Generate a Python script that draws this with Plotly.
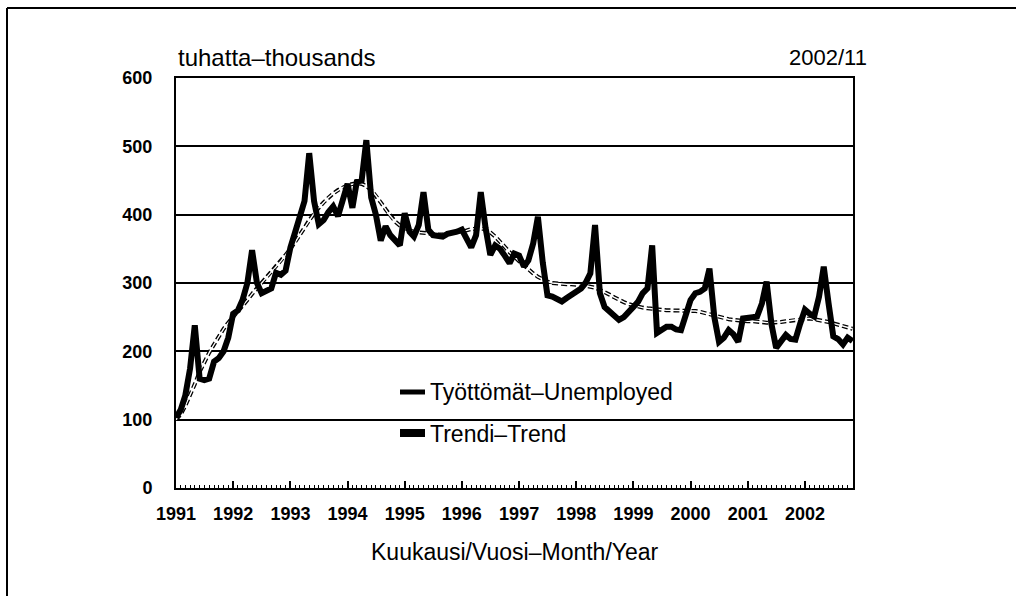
import plotly.graph_objects as go
import pandas as pd

# ---------------- data ----------------
months = pd.date_range("1991-01-01", periods=143, freq="MS")

unemployed = [
    # 1991
    103, 115, 135, 175, 238, 160, 158, 160, 185, 190, 200, 220,
    # 1992
    255, 260, 275, 300, 348, 300, 285, 288, 292, 315, 312, 318,
    # 1993
    352, 375, 395, 420, 490, 420, 386, 392, 404, 412, 398, 425,
    # 1994
    445, 410, 448, 450, 509, 425, 400, 362, 383, 370, 362, 355,
    # 1995
    402, 375, 368, 385, 433, 378, 370, 368, 368, 372, 373, 375,
    # 1996
    378, 365, 352, 370, 433, 380, 341, 355, 350, 340, 329, 343,
    # 1997
    340, 324, 333, 358, 397, 330, 282, 280, 276, 273, 278, 282,
    # 1998
    286, 292, 300, 314, 385, 285, 265, 258, 250, 246, 250, 256,
    # 1999
    265, 273, 285, 292, 355, 227, 232, 236, 236, 232, 231, 255,
    # 2000
    275, 285, 287, 292, 321, 250, 214, 220, 231, 225, 214, 248,
    # 2001
    250, 250, 251, 270, 302, 240, 205, 215, 224, 218, 217, 240,
    # 2002
    261, 255, 251, 280, 324, 270, 222, 218, 210, 220, 215,
]

trend = [
    # 1991
    100, 108, 120, 135, 152, 170, 185, 198, 210, 222, 233, 242,
    # 1992
    250, 258, 266, 275, 284, 292, 300, 308, 316, 324, 332, 341,
    # 1993
    350, 360, 370, 381, 392, 402, 410, 418, 425, 431, 436, 440,
    # 1994
    443, 445, 446, 445, 442, 436, 428, 418, 408, 398, 390, 384,
    # 1995
    380, 377, 375, 374, 373, 372, 372, 371, 371, 372, 373, 374,
    # 1996
    375, 377, 379, 380, 380, 378, 374, 368, 361, 353, 345, 338,
    # 1997
    332, 326, 320, 314, 309, 305, 302, 300, 299, 298, 298, 298,
    # 1998
    298, 297, 296, 295, 293, 290, 287, 283, 279, 275, 272, 269,
    # 1999
    267, 265, 264, 263, 262, 261, 261, 260, 260, 260, 260, 260,
    # 2000
    260, 259, 258, 256, 254, 252, 250, 248, 247, 246, 245, 245,
    # 2001
    244, 244, 243, 243, 242, 242, 242, 243, 244, 245, 246, 247,
    # 2002
    248, 248, 247, 246, 245, 243, 241, 239, 237, 235, 233,
]

year_labels = [str(y) for y in range(1991, 2003)]
year_ticks = [pd.Timestamp(f"{y}-01-01") for y in range(1991, 2003)]
y_ticks = [0, 100, 200, 300, 400, 500, 600]

legend_labels = ["Työttömät–Unemployed", "Trendi–Trend"]

# ---------------- layout geometry ----------------
W, H = 1016, 596
L, R, T, B = 176, 163, 78, 108
PW, PH = W - L - R, H - T - B


def xp(px):
    return (px - L) / PW


def yp(py):
    return (H - B - py) / PH


REG = "Liberation Sans, Arial, sans-serif"
numfont = dict(family=REG, size=18, color="black", weight="bold")

fig = go.Figure()

# trend: dashed double line
fig.add_trace(go.Scatter(
    x=months, y=trend, mode="lines",
    line=dict(color="black", width=4, dash="6px,3px"),
    hoverinfo="skip", showlegend=False,
))
fig.add_trace(go.Scatter(
    x=months, y=trend, mode="lines",
    line=dict(color="white", width=1.4),
    hoverinfo="skip", showlegend=False,
))
# unemployed: thick black
fig.add_trace(go.Scatter(
    x=months, y=unemployed, mode="lines",
    line=dict(color="black", width=6),
    showlegend=False,
))

fig.update_layout(
    width=W, height=H,
    margin=dict(l=L, r=R, t=T, b=B, pad=0),
    paper_bgcolor="white", plot_bgcolor="white",
    showlegend=False,
    xaxis=dict(
        range=[pd.Timestamp("1991-01-01"), pd.Timestamp("2002-11-04")],
        showline=True, linecolor="black", linewidth=2, mirror=True,
        showgrid=False, zeroline=False,
        tickmode="array", tickvals=year_ticks, ticktext=year_labels,
        ticks="inside", ticklen=7, tickwidth=1.5, tickcolor="black",
        tickfont=numfont,
        ticklabelstandoff=8,
        minor=dict(ticks="inside", ticklen=3, tickwidth=1, tickcolor="black",
                   dtick="M1", tick0="1991-01-01", showgrid=False),
    ),
    yaxis=dict(
        range=[0, 600], tickmode="array", tickvals=y_ticks,
        showline=True, linecolor="black", linewidth=2, mirror=True,
        showgrid=True, gridcolor="black", gridwidth=1.5, zeroline=False,
        ticks="",
        tickfont=numfont,
        ticklabelstandoff=18,
    ),
)

annotations = [
    dict(text="tuhatta–thousands", x=xp(176), y=yp(58), xanchor="left",
         yanchor="middle", font=dict(family=REG, size=24, color="black")),
    dict(text="2002/11", x=xp(869), y=yp(58), xanchor="right",
         yanchor="middle", font=dict(family=REG, size=22, color="black")),
    dict(text="Kuukausi/Vuosi–Month/Year", x=xp(514.5), y=yp(552),
         xanchor="center", yanchor="middle",
         font=dict(family=REG, size=23, color="black")),
    dict(text=legend_labels[0], x=xp(428), y=yp(392), xanchor="left",
         yanchor="middle", font=dict(family=REG, size=23, color="black")),
    dict(text=legend_labels[1], x=xp(428), y=yp(434), xanchor="left",
         yanchor="middle", font=dict(family=REG, size=23, color="black")),
]
for a in annotations:
    a.update(xref="paper", yref="paper", showarrow=False)
fig.update_layout(annotations=annotations)

shapes = [
    # legend symbols
    dict(type="line", x0=xp(400), x1=xp(425), y0=yp(392), y1=yp(392),
         line=dict(color="black", width=5)),
    dict(type="line", x0=xp(400), x1=xp(425), y0=yp(433), y1=yp(433),
         line=dict(color="black", width=8)),
    # outer frame (top and left)
    dict(type="line", x0=xp(7), x1=xp(1016), y0=yp(8), y1=yp(8),
         line=dict(color="black", width=2)),
    dict(type="line", x0=xp(7), x1=xp(7), y0=yp(8), y1=yp(596),
         line=dict(color="black", width=2)),
]
for s in shapes:
    s.update(xref="paper", yref="paper")
fig.update_layout(shapes=shapes)

fig.write_html(
    "out.html",
    config={"displayModeBar": False},
    post_script="document.body.style.margin='0';document.body.style.overflow='hidden';",
)
